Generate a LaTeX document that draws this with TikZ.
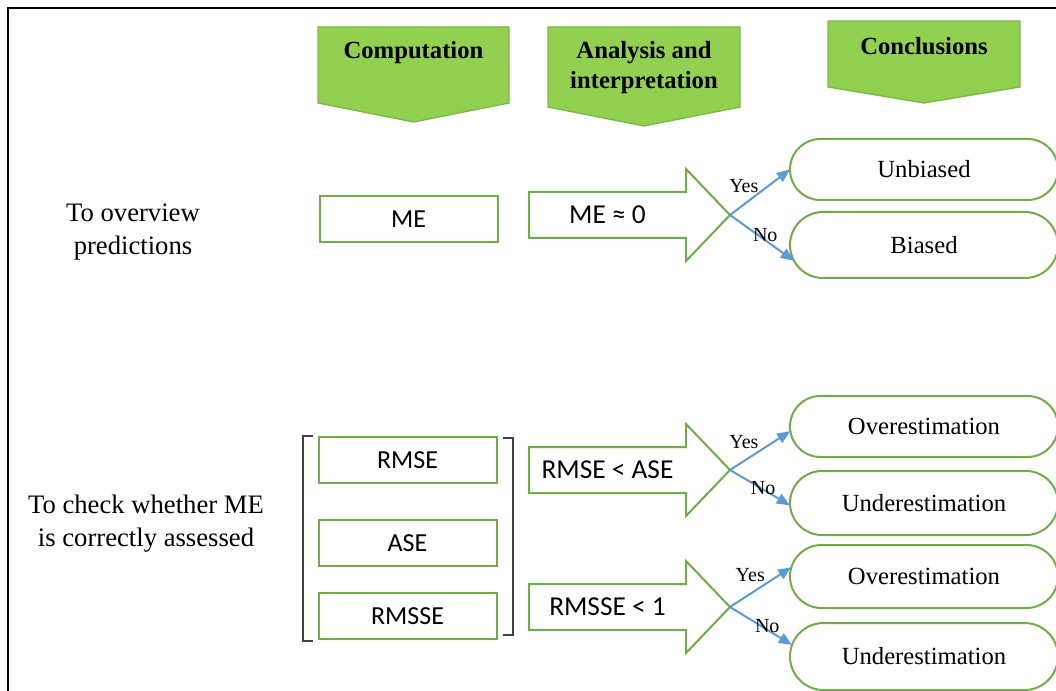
\documentclass[tikz,border=0pt]{standalone}
\usepackage{fontspec}
\setmainfont{Liberation Serif}
\newfontfamily\calib{Carlito}
\usetikzlibrary{shapes.misc,arrows.meta}
\definecolor{hdrgreen}{HTML}{92D050}
\definecolor{hdrline}{HTML}{7DB846}
\definecolor{boxgreen}{HTML}{70AD47}
\definecolor{yesblue}{HTML}{5B9BD5}
\begin{document}
\begin{tikzpicture}[x=0.75pt,y=-0.75pt,inner sep=0pt,outer sep=0pt,
header/.style={draw=hdrline,fill=hdrgreen,line width=1pt},
hdrtext/.style={font=\fontsize{18.5}{22.5}\selectfont\bfseries,align=center},
measure/.style={draw=boxgreen,line width=1.5pt,minimum width=133.5pt,minimum height=34.5pt,font=\calib\fontsize{19.5}{23}\selectfont},
test/.style={draw=boxgreen,line width=1.5pt},
testtext/.style={font=\calib\fontsize{20.5}{24}\selectfont},
verdict/.style={draw=boxgreen,line width=1.5pt,rounded rectangle,minimum width=201pt,font=\fontsize{18.5}{22}\selectfont},
branch/.style={draw=yesblue,line width=1.5pt,-{Triangle[length=10pt,width=8pt]}},
answer/.style={font=\fontsize{15}{17}\selectfont},
aim/.style={font=\fontsize{20}{24.75}\selectfont,align=center}]
\useasboundingbox (0,0) rectangle (1056,691);
\draw[line width=1pt] (1056,8) -- (8,8) -- (8,691);

\draw[header] (318,27) -- (509,27) -- (509,103) -- (413.5,122) -- (318,103) -- cycle;
\node[hdrtext] (comp) at (413.5,53) {Computation};
\draw[header] (548,27) -- (740,27) -- (740,107) -- (644,126) -- (548,107) -- cycle;
\node[hdrtext] (anal) at (644,68) {Analysis and\\interpretation};
\draw[header] (828,21) -- (1020,21) -- (1020,87) -- (924,103) -- (828,87) -- cycle;
\node[hdrtext] (concl) at (924,46) {Conclusions};

\node[aim] (aim1) at (133,232) {To overview\\predictions};
\node[aim] (aim2) at (146,524) {To check whether ME\\is correctly assessed};

\node[measure] (me) at (408.5,219) {ME};
\node[measure] (rmse) at (407.5,460) {RMSE};
\node[measure] (ase) at (407.5,543) {ASE};
\node[measure] (rmsse) at (407.5,616) {\raisebox{-3pt}{RMSSE}};
\draw[line width=0.8pt,black!75] (313,436) -| (303,641) -- (313,641);
\draw[line width=0.8pt,black!75] (503,438) -| (513,635) -- (503,635);

\draw[test] (529,192) -- (686,192) -- (686,169) -- (730,215) coordinate (t1) -- (686,261) -- (686,238) -- (529,238) -- cycle;
\node[testtext] (c1) at (607.5,215) {ME ≈ 0};
\draw[test] (529,447) -- (686,447) -- (686,424) -- (730,470) coordinate (t2) -- (686,516) -- (686,493) -- (529,493) -- cycle;
\node[testtext] (c2) at (607.5,470) {RMSE < ASE};
\draw[test] (529,584) -- (686,584) -- (686,561) -- (730,607) coordinate (t3) -- (686,653) -- (686,630) -- (529,630) -- cycle;
\node[testtext] (c3) at (607.5,607) {RMSSE < 1};

\node[verdict,minimum height=45.75pt] (unb) at (924,169.5) {Unbiased};
\node[verdict,minimum height=49.5pt] (bia) at (924,245) {Biased};
\node[verdict,minimum height=45.75pt] (over1) at (924,426.5) {Overestimation};
\node[verdict,minimum height=48pt] (under1) at (924,503) {Underestimation};
\node[verdict,minimum height=47.25pt] (over2) at (924,576.5) {Overestimation};
\node[verdict,minimum height=50.25pt] (under2) at (924,656.5) {Underestimation};

\draw[branch] (t1) -- (unb.west) node[answer,pos=0.23,yshift=13.5pt] {Yes};
\draw[branch] (t1) -- (bia.187) node[answer,pos=0.55,yshift=4pt] {No};
\draw[branch] (t2) -- (over1.182) node[answer,pos=0.23,yshift=14pt] {Yes};
\draw[branch] (t2) -- (under1.181) node[answer,pos=0.55,yshift=1pt] {No};
\draw[branch] (t3) -- (over2.176) node[answer,pos=0.33,yshift=14pt] {Yes};
\draw[branch] (t3) -- (under2.175) node[answer,pos=0.6,yshift=3pt] {No};
\end{tikzpicture}
\end{document}
